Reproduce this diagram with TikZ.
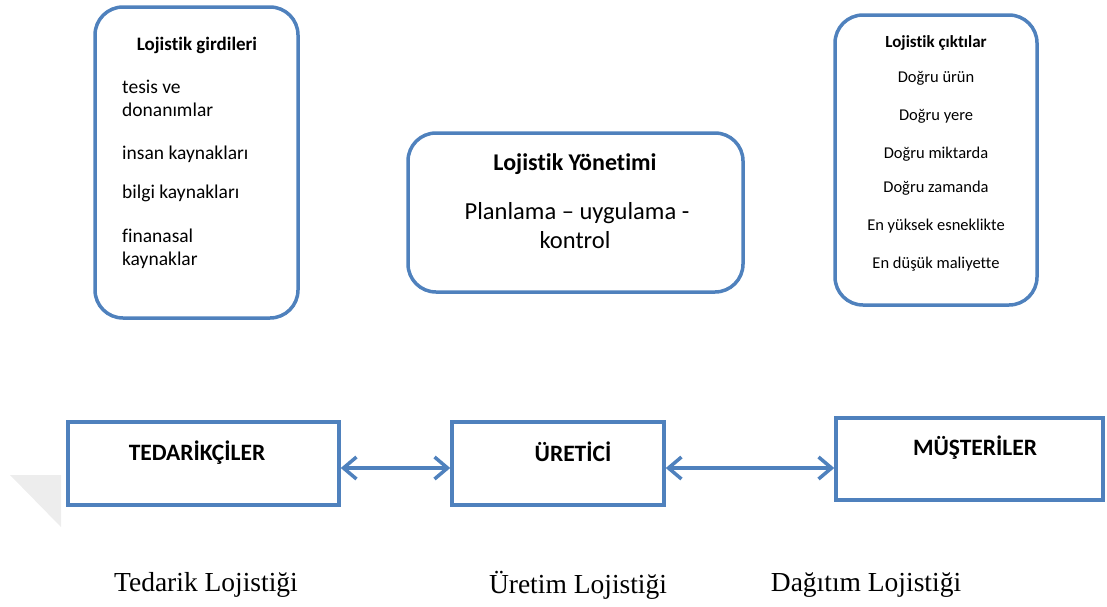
\documentclass[tikz,border=0pt]{standalone}
\usepackage{fontspec}
\setmainfont{Carlito}[Ligatures={NoCommon,NoRare,NoContextual}]
\newfontfamily\serifface{Liberation Serif}
\usetikzlibrary{arrows.meta}
\definecolor{boxblue}{HTML}{4F81BD}
\begin{document}
\begin{tikzpicture}[x=1pt,y=-1pt,
  rbox/.style={draw=boxblue,line width=3.5pt,rounded corners=28pt,inner sep=0pt},
  sbox/.style={draw=boxblue,line width=3.5pt,inner sep=0pt},
  lt/.style={inner sep=0pt,anchor=west,font=\fontsize{19.5}{22}\selectfont},
  rt/.style={inner sep=0pt,font=\fontsize{16.5}{19}\selectfont},
  mt/.style={inner sep=0pt,font=\fontsize{24.5}{28}\selectfont},
  bt/.style={inner sep=0pt,font=\fontsize{23.5}{27}\selectfont\bfseries},
  st/.style={inner sep=0pt,font=\serifface\fontsize{27.5}{32}\selectfont},
  link/.style={draw=boxblue,line width=3.5pt,{Straight Barb[length=13pt,width=22pt]}-{Straight Barb[length=13pt,width=22pt]}}]
\useasboundingbox (0,0) rectangle (1107,606);
\fill[black!7] (10,475) -- (61,475) -- (61,527) -- cycle;
% boxes
\node[rbox,minimum width=203pt,minimum height=311pt] (in) at (196.5,162.5) {};
\node[rbox,minimum width=202pt,minimum height=290pt] (out) at (936,160) {};
\node[rbox,minimum width=335pt,minimum height=159pt] (mgmt) at (575.5,212.5) {};
\node[sbox,minimum width=271pt,minimum height=83pt] (ted) at (203.5,463.5) {};
\node[sbox,minimum width=212pt,minimum height=83pt] (ure) at (558,463.5) {};
\node[sbox,minimum width=267pt,minimum height=82pt] (mus) at (969.5,459) {};
\coordinate (a1) at (ted.east |- 0,468);
\coordinate (a2) at (ure.west |- 0,468);
\coordinate (a3) at (ure.east |- 0,468);
\coordinate (a4) at (mus.west |- 0,468);
% left box text
\node[lt,anchor=center,font=\fontsize{19}{22}\selectfont\bfseries] (in0) at (197,45) {Lojistik girdileri};
\node[lt] (in1) at (122,87) {tesis ve};
\node[lt] (in2) at (122,110) {donanımlar};
\node[lt] (in3) at (122,154) {insan kaynakları};
\node[lt] (in4) at (122,193) {bilgi kaynakları};
\node[lt] (in5) at (122,236) {finanasal};
\node[lt] (in6) at (122,260) {kaynaklar};
% right box text
\node[rt,font=\fontsize{17}{19}\selectfont\bfseries] (o0) at (936,43) {Lojistik çıktılar};
\node[rt] (o1) at (936,78) {Doğru ürün};
\node[rt] (o2) at (936,116) {Doğru yere};
\node[rt] (o3) at (936,154) {Doğru miktarda};
\node[rt] (o4) at (936,188) {Doğru zamanda};
\node[rt] (o5) at (936,226) {En yüksek esneklikte};
\node[rt] (o6) at (936,264) {En düşük maliyette};
% middle
\node[mt,font=\fontsize{24}{28}\selectfont\bfseries] (m0) at (575,164) {Lojistik Yönetimi};
\node[mt] (m1) at (577,213) {Planlama – uygulama -};
\node[mt] (m2) at (575,240) {kontrol};
% bottom box labels
\node[bt] (t1) at (197,453) {TEDARİKÇİLER};
\node[bt] (t2) at (573,452) {ÜRETİCİ};
\node[bt] (t3) at (975,448) {MÜŞTERİLER};
% connectors
\draw[link] (a1) -- (a2);
\draw[link] (a3) -- (a4);
% captions
\node[st] (c1) at (206,585) {Tedarik Lojistiği};
\node[st] (c2) at (578,585) {Üretim Lojistiği};
\node[st] (c3) at (866,585) {Dağıtım Lojistiği};
\end{tikzpicture}
\end{document}
